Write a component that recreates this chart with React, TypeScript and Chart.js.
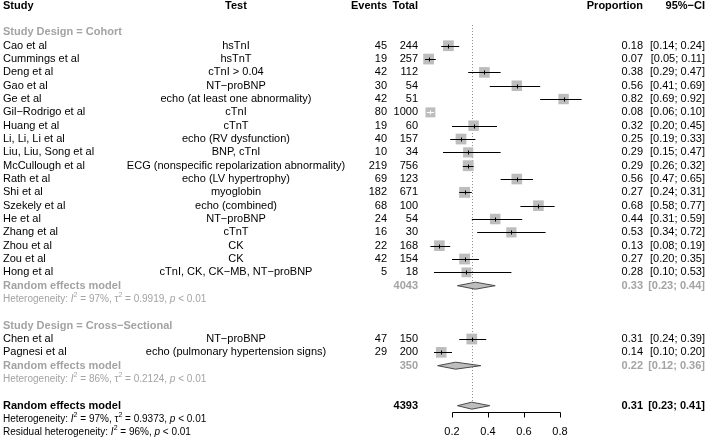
import React, { useEffect, useRef } from "react";
import { Chart, registerables } from "chart.js";

Chart.register(...registerables);

// ---------------- data ----------------
const studies = [
  "Cao et al", "Cummings et al", "Deng et al", "Gao et al", "Ge et al",
  "Gil\u2212Rodrigo et al", "Huang et al", "Li, Li, Li et al", "Liu, Liu, Song et al",
  "McCullough et al", "Rath et al", "Shi et al", "Szekely et al", "He et al",
  "Zhang et al", "Zhou et al", "Zou et al", "Hong et al", "Chen et al", "Pagnesi et al",
];
const tests = [
  "hsTnI", "hsTnT", "cTnI > 0.04", "NT\u2212proBNP", "echo (at least one abnormality)",
  "cTnI", "cTnT", "echo (RV dysfunction)", "BNP, cTnI",
  "ECG (nonspecific repolarization abnormality)", "echo (LV hypertrophy)", "myoglobin",
  "echo (combined)", "NT\u2212proBNP", "cTnT", "CK", "CK", "cTnI, CK, CK\u2212MB, NT\u2212proBNP",
  "NT\u2212proBNP", "echo (pulmonary hypertension signs)",
];
const designs = [
  "Cohort", "Cohort", "Cohort", "Cohort", "Cohort", "Cohort", "Cohort", "Cohort", "Cohort",
  "Cohort", "Cohort", "Cohort", "Cohort", "Cohort", "Cohort", "Cohort", "Cohort", "Cohort",
  "Cross\u2212Sectional", "Cross\u2212Sectional",
];
const events = [45, 19, 42, 30, 42, 80, 19, 40, 10, 219, 69, 182, 68, 24, 16, 22, 42, 5, 47, 29];
const totals = [244, 257, 112, 54, 51, 1000, 60, 157, 34, 756, 123, 671, 100, 54, 30, 168, 154, 18, 150, 200];
const props = [0.18, 0.07, 0.38, 0.56, 0.82, 0.08, 0.32, 0.25, 0.29, 0.29, 0.56, 0.27, 0.68, 0.44, 0.53, 0.13, 0.27, 0.28, 0.31, 0.14];
const lows = [0.14, 0.05, 0.29, 0.41, 0.69, 0.06, 0.20, 0.19, 0.15, 0.26, 0.47, 0.24, 0.58, 0.31, 0.34, 0.08, 0.20, 0.10, 0.24, 0.10];
const highs = [0.24, 0.11, 0.47, 0.69, 0.92, 0.10, 0.45, 0.33, 0.47, 0.32, 0.65, 0.31, 0.77, 0.59, 0.72, 0.19, 0.35, 0.53, 0.39, 0.20];
const weights = [5.1, 5.1, 5.0, 4.9, 4.8, 4.4, 4.9, 5.1, 4.6, 5.2, 5.0, 5.2, 5.0, 4.9, 4.6, 5.0, 5.1, 4.3, 5.1, 5.0];

const groupNames = ["Cohort", "Cross\u2212Sectional"];
const groupTotals = [4043, 350];
const groupEst = [0.33, 0.22];
const groupLow = [0.23, 0.12];
const groupHigh = [0.44, 0.36];
const groupI2 = ["97%", "86%"];
const groupTau2 = ["0.9919", "0.2124"];
const groupP = ["< 0.01", "< 0.01"];

const overallTotal = 4393;
const overallEst = 0.31;
const overallLow = 0.23;
const overallHigh = 0.41;
const overallI2 = "97%";
const overallTau2 = "0.9373";
const overallP = "< 0.01";
const residualI2 = "96%";
const residualP = "< 0.01";

const xTicks = [0.2, 0.4, 0.6, 0.8];

// ---------------- styling ----------------
const FONT = '"Liberation Sans", Arial, Helvetica, sans-serif';
const FS = 11;
const FS_HET = 10;
const TXT = "#000000";
const GRAY = "#a3a3a3";
const SQUARE = "#bdbdbd";
const DIAMOND_FILL = "#bdbdbd";
const DIAMOND_LINE = "#4a4a4a";

const X_STUDY = 3;
const X_TEST = 236;
const X_EVENTS = 387;
const X_TOTAL = 418;
const X_PROP = 643;
const X_CI = 705;

// ---------------- row layout ----------------
type Row =
  | { kind: "header" }
  | { kind: "blank" }
  | { kind: "group"; g: number }
  | { kind: "study"; i: number }
  | { kind: "gmodel"; g: number }
  | { kind: "ghet"; g: number }
  | { kind: "model" }
  | { kind: "het" }
  | { kind: "resid" };

function buildRows(): Row[] {
  const rows: Row[] = [{ kind: "header" }, { kind: "blank" }];
  groupNames.forEach((name, g) => {
    rows.push({ kind: "group", g });
    designs.forEach((d, i) => {
      if (d === name) rows.push({ kind: "study", i });
    });
    rows.push({ kind: "gmodel", g });
    rows.push({ kind: "ghet", g });
    rows.push({ kind: "blank" });
  });
  rows.push({ kind: "model" });
  rows.push({ kind: "het" });
  rows.push({ kind: "resid" });
  return rows;
}

const rows = buildRows();
const studyRow: number[] = [];
rows.forEach((r, idx) => {
  if (r.kind === "study") studyRow[r.i] = idx;
});

const fmt = (v: number) => v.toFixed(2);
const ciText = (lo: number, hi: number) => `[${fmt(lo)}; ${fmt(hi)}]`;

type Seg = { t: string; italic?: boolean; sup?: boolean };

function hetSegs(i2: string, tau2: string | null, p: string, prefix: string): Seg[] {
  const s: Seg[] = [{ t: prefix + ": " }, { t: "I", italic: true }, { t: "2", sup: true }, { t: " = " + i2 + ", " }];
  if (tau2 !== null) {
    s.push({ t: "\u03c4" }, { t: "2", sup: true }, { t: " = " + tau2 + ", " });
  }
  s.push({ t: "p", italic: true }, { t: " " + p });
  return s;
}

function drawRich(ctx: CanvasRenderingContext2D, segs: Seg[], x: number, y: number, color: string) {
  let cx = x;
  ctx.fillStyle = color;
  ctx.textAlign = "left";
  ctx.textBaseline = "middle";
  for (const s of segs) {
    if (s.sup) {
      ctx.font = `7px ${FONT}`;
      ctx.fillText(s.t, cx, y - 4);
    } else {
      ctx.font = `${s.italic ? "italic " : ""}${FS_HET}px ${FONT}`;
      ctx.fillText(s.t, cx, y);
    }
    cx += ctx.measureText(s.t).width;
  }
}

function text(ctx: CanvasRenderingContext2D, t: string, x: number, y: number, align: CanvasTextAlign, bold: boolean, color: string, size = FS) {
  ctx.font = `${bold ? "bold " : ""}${size}px ${FONT}`;
  ctx.fillStyle = color;
  ctx.textAlign = align;
  ctx.textBaseline = "middle";
  ctx.fillText(t, x, y);
}

const SQ_K = 4.75; // square side = SQ_K * sqrt(weight)
const squareSide = (w: number) => SQ_K * Math.sqrt(w);

const forestPlugin = {
  id: "forest",
  beforeDatasetsDraw(chart: any) {
    const ctx: CanvasRenderingContext2D = chart.ctx;
    const xs = chart.scales.x;
    const ys = chart.scales.y;
    const x = Math.round(xs.getPixelForValue(overallEst)) + 0.5;
    ctx.save();
    ctx.strokeStyle = "#8c8c8c";
    ctx.lineWidth = 1;
    ctx.setLineDash([1, 2]);
    ctx.beginPath();
    ctx.moveTo(x, ys.getPixelForValue(1.45));
    ctx.lineTo(x, ys.getPixelForValue(30.2));
    ctx.stroke();
    ctx.restore();
  },
  afterDatasetsDraw(chart: any) {
    const ctx: CanvasRenderingContext2D = chart.ctx;
    const xs = chart.scales.x;
    const ys = chart.scales.y;
    const px = (v: number) => xs.getPixelForValue(v);
    const py = (v: number) => ys.getPixelForValue(v);
    ctx.save();

    const diamond = (est: number, lo: number, hi: number, y: number) => {
      const h = 3.5;
      ctx.beginPath();
      ctx.moveTo(px(lo), y);
      ctx.lineTo(px(est), y - h);
      ctx.lineTo(px(hi), y);
      ctx.lineTo(px(est), y + h);
      ctx.closePath();
      ctx.fillStyle = DIAMOND_FILL;
      ctx.fill();
      ctx.strokeStyle = DIAMOND_LINE;
      ctx.lineWidth = 1;
      ctx.stroke();
    };

    rows.forEach((r, idx) => {
      const y = py(idx);
      if (r.kind === "header") {
        text(ctx, "Study", X_STUDY, y, "left", true, TXT);
        text(ctx, "Test", X_TEST, y, "center", true, TXT);
        text(ctx, "Events", X_EVENTS, y, "right", true, TXT);
        text(ctx, "Total", X_TOTAL, y, "right", true, TXT);
        text(ctx, "Proportion", X_PROP, y, "right", true, TXT);
        text(ctx, "95%\u2212CI", X_CI, y, "right", true, TXT);
      } else if (r.kind === "group") {
        text(ctx, "Study Design = " + groupNames[r.g], X_STUDY, y, "left", true, GRAY);
      } else if (r.kind === "study") {
        const i = r.i;
        text(ctx, studies[i], X_STUDY, y, "left", false, TXT);
        text(ctx, tests[i], X_TEST, y, "center", false, TXT);
        text(ctx, String(events[i]), X_EVENTS, y, "right", false, TXT);
        text(ctx, String(totals[i]), X_TOTAL, y, "right", false, TXT);
        text(ctx, fmt(props[i]), X_PROP, y, "right", false, TXT);
        text(ctx, ciText(lows[i], highs[i]), X_CI, y, "right", false, TXT);
        // CI line
        const half = squareSide(weights[i]) / 2;
        const cx = px(props[i]);
        const inside = px(lows[i]) > cx - half + 1 && px(highs[i]) < cx + half - 1;
        const yy = Math.round(y) + 0.5;
        ctx.strokeStyle = inside ? "#ffffff" : "#000000";
        ctx.lineWidth = 1;
        ctx.beginPath();
        ctx.moveTo(px(lows[i]), yy);
        ctx.lineTo(px(highs[i]), yy);
        ctx.stroke();
        const xx = Math.round(cx) + 0.5;
        ctx.beginPath();
        ctx.moveTo(xx, yy - 2);
        ctx.lineTo(xx, yy + 2);
        ctx.stroke();
      } else if (r.kind === "gmodel") {
        const g = r.g;
        text(ctx, "Random effects model", X_STUDY, y, "left", true, GRAY);
        text(ctx, String(groupTotals[g]), X_TOTAL, y, "right", true, GRAY);
        text(ctx, fmt(groupEst[g]), X_PROP, y, "right", true, GRAY);
        text(ctx, ciText(groupLow[g], groupHigh[g]), X_CI, y, "right", true, GRAY);
        diamond(groupEst[g], groupLow[g], groupHigh[g], y);
      } else if (r.kind === "ghet") {
        const g = r.g;
        drawRich(ctx, hetSegs(groupI2[g], groupTau2[g], groupP[g], "Heterogeneity"), X_STUDY, y, GRAY);
      } else if (r.kind === "model") {
        text(ctx, "Random effects model", X_STUDY, y, "left", true, TXT);
        text(ctx, String(overallTotal), X_TOTAL, y, "right", true, TXT);
        text(ctx, fmt(overallEst), X_PROP, y, "right", true, TXT);
        text(ctx, ciText(overallLow, overallHigh), X_CI, y, "right", true, TXT);
        diamond(overallEst, overallLow, overallHigh, y);
      } else if (r.kind === "het") {
        drawRich(ctx, hetSegs(overallI2, overallTau2, overallP, "Heterogeneity"), X_STUDY, y, TXT);
      } else if (r.kind === "resid") {
        drawRich(ctx, hetSegs(residualI2, null, residualP, "Residual heterogeneity"), X_STUDY, y, TXT);
      }
    });

    // x axis
    const axisY = Math.round(py(30.45)) + 0.5;
    ctx.strokeStyle = "#000000";
    ctx.lineWidth = 1;
    ctx.beginPath();
    ctx.moveTo(Math.round(px(xTicks[0])) + 0.5, axisY);
    ctx.lineTo(Math.round(px(xTicks[xTicks.length - 1])) + 0.5, axisY);
    xTicks.forEach((t) => {
      const x = Math.round(px(t)) + 0.5;
      ctx.moveTo(x, axisY);
      ctx.lineTo(x, axisY + 5);
    });
    ctx.stroke();
    xTicks.forEach((t) => {
      text(ctx, t.toFixed(1), px(t), py(31.95), "center", false, TXT);
    });

    ctx.restore();
  },
};

export default function App() {
  const ref = useRef<HTMLCanvasElement | null>(null);
  useEffect(() => {
    if (!ref.current) return;
    const pts = props.map((p, i) => ({ x: p, y: studyRow[i] }));
    const radii = weights.map((w) => squareSide(w) / 2 / Math.SQRT1_2);
    const chart = new Chart(ref.current, {
      type: "scatter",
      data: {
        datasets: [
          {
            data: pts,
            pointStyle: "rect",
            pointRadius: radii,
            pointHoverRadius: radii,
            backgroundColor: SQUARE,
            borderWidth: 0,
            clip: false as any,
          } as any,
        ],
      },
      options: {
        responsive: false,
        animation: false,
        events: [],
        layout: { autoPadding: false, padding: { left: 416, right: 111, top: 0, bottom: 0 } } as any,
        scales: {
          x: { type: "linear", min: 0, max: 1, display: false },
          y: { type: "linear", min: -0.43, max: 32.5, reverse: true, display: false },
        },
        plugins: { legend: { display: false }, tooltip: { enabled: false } },
      },
      plugins: [forestPlugin],
    });
    return () => chart.destroy();
  }, []);
  return (
    <div style={{ position: "fixed", left: 0, top: 0, width: 707, height: 439, background: "#fff" }}>
      <canvas ref={ref} width={707} height={439} style={{ width: 707, height: 439, display: "block" }} />
    </div>
  );
}
